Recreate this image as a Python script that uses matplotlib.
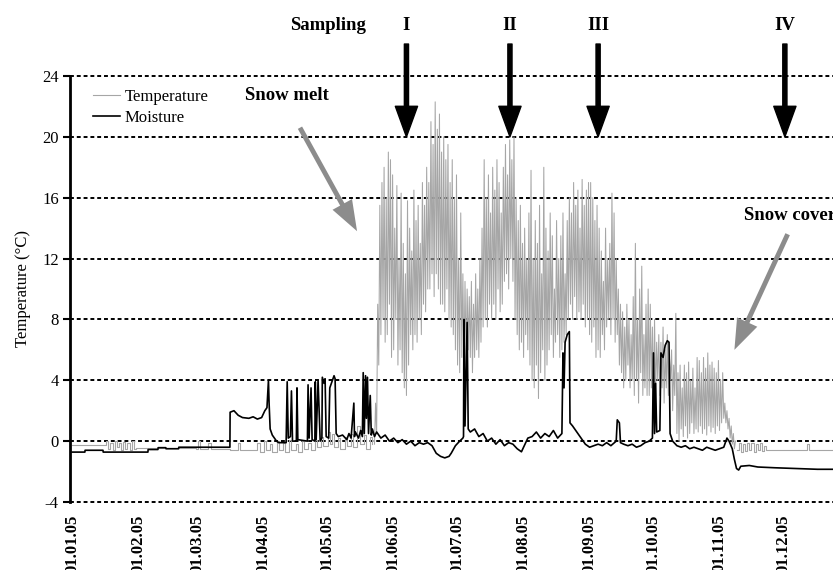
import matplotlib
matplotlib.use('Agg')
import matplotlib.pyplot as plt

plt.rcParams['font.family'] = ['Liberation Serif', 'DejaVu Serif']
plt.rcParams['axes.unicode_minus'] = False

# x axis: day of year 2005 (0 = 1 Jan)
tick_days = [0, 31, 59, 90, 120, 151, 181, 212, 243, 273, 304, 334]
tick_labels = ['01.01.05', '01.02.05', '01.03.05', '01.04.05', '01.05.05', '01.06.05',
               '01.07.05', '01.08.05', '01.09.05', '01.10.05', '01.11.05', '01.12.05']
y_ticks = [-4, 0, 4, 8, 12, 16, 20, 24]

# temperature before snow melt (day, degC)
temp_pre = [(0, -0.25), (15, -0.25), (16, 0.0), (17, -0.5), (18, -0.1), (19, -0.6), (20, 0.0),
            (21, -0.4), (22, -0.1), (23, -0.6), (24, -0.05), (25, -0.5), (26, -0.1), (27, -0.55),
            (28, 0.0), (29, -0.5), (30, -0.45), (58, -0.5), (59, 0.0), (60, -0.5), (64, -0.1),
            (65, -0.5), (74, -0.6), (78, -0.1), (79, -0.6), (85, -0.6), (87, -0.1), (88, -0.7),
            (90, 0.0), (91, -0.6), (93, -0.2), (94, -0.7), (96, 0.0), (97, -0.6), (99, -0.1),
            (100, -0.7), (102, 0.1), (103, -0.6), (105, -0.2), (106, -0.7), (108, 0.0), (109, -0.5),
            (111, -0.1), (112, -0.6), (114, 0.1), (115, -0.4), (117, 0.3), (118, -0.3), (120, 0.6),
            (121, -0.2), (122, 0.5), (123, -0.4), (125, 0.2), (126, -0.5), (128, 0.3), (129, -0.3),
            (131, 0.5), (132, -0.4), (134, 1.0), (135, -0.2), (137, 0.4), (138, -0.5), (140, 0.3),
            (141, -0.2)]

# daily (max, min) temperature from day 142 on
summer_start = 142
temp_daily = [(2.5, -0.2), (9, 0.5), (15.5, 5), (17, 7), (18, 8), (16, 6.5), (19, 7), (18.5, 9),
              (17.5, 5.5), (14, 6), (16.8, 8), (12, 5), (16.3, 6), (13, 4.5), (11, 3.5), (15.8, 3),
              (14, 5), (12.5, 7), (16.5, 6), (14.5, 7), (15.5, 6.5), (13, 8), (17, 7), (15.5, 9),
              (18, 8.5), (17, 10), (21, 10), (19.5, 11), (22.3, 9.5), (20.5, 11), (21.5, 10), (19, 9),
              (20, 9), (18.5, 8.5), (19.5, 10), (17, 8), (18.5, 7.5), (16, 7), (17.5, 6), (12, 5),
              (15, 4.5), (11, 5.5), (10.5, 4.5), (10, 5), (9.5, 6), (10.5, 5.5), (9, 4.5), (11, 5.5),
              (10, 6), (12, 5.5), (14, 6.5), (18.5, 7.5), (16, 8), (17.5, 7.5), (15, 9), (18, 8),
              (16.5, 9), (18.5, 8), (17, 10), (15, 8.5), (18, 9), (19.5, 10.5), (17.5, 11), (19.8, 10),
              (18.5, 12), (20, 10.5), (16, 8), (14.5, 7), (15.5, 6), (13, 6.5), (14, 5.5), (12, 7),
              (15, 6), (17.8, 5), (12, 4), (14.5, 3.5), (13, 5), (15.5, 2.8), (11, 4.5), (18, 6),
              (14, 4), (12.5, 5), (15, 6), (13.5, 7), (10, 5.5), (14.5, 6.5), (12, 7), (13.5, 5.5),
              (15, 6), (11, 6.5), (14.5, 7), (16, 8), (15, 9), (17, 8), (15.5, 9.5), (16.5, 8),
              (14, 8.5), (17.2, 8), (15.5, 9), (16.5, 7.5), (17, 8), (17, 7), (16, 6.5), (14.5, 7.5),
              (15.5, 5.5), (14, 6), (12.5, 5.5), (10.5, 7), (14, 6), (12, 7.5), (13, 8), (16.3, 7),
              (15, 8), (12, 6.5), (10, 7), (9, 5), (8.5, 4.5), (7.5, 3.5), (9, 4), (8, 5), (7, 3.5),
              (9.5, 4), (13, 3), (8, 4), (10, 2.5), (11.5, 4.5), (7, 3), (9, 3.5), (10, 3), (9, 3),
              (7.5, 3.5), (8, 2.5), (6.5, 3), (7, 4), (6.5, 3), (7.5, 3.5), (6, 2.5), (7, 3.5),
              (5.5, 3), (6, 4), (5, 2), (8.4, 3), (4.5, 0.5), (5, 0), (3.5, 0.8), (5, 0.3), (4.5, 1),
              (5.2, 0.2), (4, 0.5), (4.8, 1.2), (3.5, 0.5), (5.5, 0.8), (5.3, 0.6), (4.5, 1),
              (5.5, 0.5), (4.8, 0.8), (5.8, 0.4), (5, 1), (5.2, 0.6), (4.8, 0.9), (4.5, 0.5),
              (5.3, 1), (4, 0.7), (4.5, 1.2), (2.5, 1.5), (2, 1.2), (1.5, 0.8), (1, 0.2), (0.5, -0.2),
              (0, -0.5)]

# temperature under snow cover
temp_post = [(312, -0.6), (313, -0.1), (314, -0.7), (315, -0.2), (316, -0.65), (317, -0.1),
             (318, -0.6), (319, -0.15), (320, -0.7), (321, -0.2), (322, -0.6), (323, -0.1),
             (324, -0.65), (325, -0.3), (326, -0.6), (345, -0.6), (345.3, -0.2), (345.8, -0.6),
             (357, -0.6)]

# moisture (day, value)
moisture = [(0, -0.72), (6, -0.72), (6.1, -0.6), (14.5, -0.6), (14.6, -0.72), (35.6, -0.72),
            (35.7, -0.55), (40.3, -0.55), (40.4, -0.43), (44, -0.43), (44.1, -0.5), (50, -0.5),
            (50.1, -0.4), (74.1, -0.4), (74.2, 1.9), (76, 2.0), (78, 1.7), (80, 1.55), (83, 1.5),
            (85, 1.6), (87, 1.45), (89, 1.55), (90.5, 2.0), (91.5, 2.2), (92.2, 4.0), (92.5, 2.5),
            (93, 0.8), (94, 0.4), (96, 0.0), (97, -0.1), (100.5, -0.1), (101, 3.9), (101.5, 0.2),
            (102.5, 0.3), (103, 3.3), (103.5, 0.0), (105.3, 0.0), (105.6, 3.5), (106, 0.1),
            (110.5, 0.0), (110.8, 3.7), (111.3, 0.2), (112.2, 3.5), (112.7, 0.1), (114, 0.0),
            (114.2, 3.9), (114.6, 0.1), (115.5, 4.0), (116.5, 0.0), (117.3, 0.2), (117.5, 4.2),
            (118.3, 3.8), (118.8, 4.1), (119.3, 0.3), (120.5, 0.2), (121, 3.5), (122, 3.9),
            (123, 4.3), (123.5, 4.1), (124, 0.5), (125, 0.3), (127, 0.4), (129, 0.1), (130, 0.5),
            (131, 0.2), (132.3, 2.5), (132.6, 0.3), (133, 0.6), (134.5, 0.2), (135.5, 0.7),
            (136.3, 0.3), (136.7, 4.5), (137.2, 0.5), (137.8, 4.3), (138.2, 1.5), (138.7, 4.2),
            (139.2, 0.5), (140, 3.0), (140.5, 0.4), (141, 0.8), (142, 0.3), (143, 0.6), (145, 0.2),
            (147, 0.4), (149, 0.0), (151, 0.2), (153, -0.1), (155, 0.1), (157, -0.2), (159, 0.0),
            (161, -0.3), (163, -0.1), (165, -0.2), (167, -0.1), (169, -0.3), (171, -0.8),
            (173, -1.0), (175, -1.1), (177, -1.0), (178, -0.8), (180, -0.3), (182, 0.0),
            (183.5, 0.2), (183.8, 0.3), (184, 8.0), (184.5, 1.0), (185.5, 7.8), (186, 0.8),
            (187, 0.6), (189, 0.8), (191, 0.3), (193, 0.5), (195, 0.0), (197, 0.2), (199, -0.2),
            (201, 0.1), (203, -0.3), (205, -0.1), (207, -0.2), (209, -0.5), (211, -0.7),
            (212, -0.4), (214, 0.2), (216, 0.3), (218, 0.6), (220, 0.2), (222, 0.5), (224, 0.3),
            (226, 0.7), (228, 0.2), (230, 0.5), (230.5, 5.8), (231, 3.5), (231.5, 6.5),
            (232.5, 7.0), (233.5, 7.2), (233.8, 1.2), (235, 1.0), (237, 0.6), (239, 0.2),
            (241, -0.2), (243, -0.4), (245, -0.3), (247, -0.2), (249, -0.3), (251, -0.1),
            (253, -0.3), (255.5, 0.0), (256, 1.4), (257, 1.2), (257.5, -0.1), (259, -0.2),
            (261, -0.3), (263, -0.2), (265, -0.4), (267, -0.3), (269, -0.1), (271, 0.0),
            (272.5, 0.2), (273, 5.8), (273.5, 0.5), (274, 3.8), (274.5, 0.6), (276, 0.7),
            (276.5, 5.8), (277.5, 5.5), (278.5, 6.3), (279.5, 6.6), (280.3, 6.5), (280.8, 0.5),
            (282, 0.0), (284, -0.3), (286, -0.4), (288, -0.3), (290, -0.5), (292, -0.4),
            (294, -0.5), (296, -0.6), (298, -0.4), (300, -0.5), (302, -0.6), (304, -0.5),
            (306, -0.4), (307.5, 0.2), (308.5, 0.0), (310, -0.5), (311, -1.2), (312, -1.8),
            (313, -1.9), (314, -1.65), (318, -1.6), (322, -1.7), (330, -1.75), (340, -1.8),
            (350, -1.85), (357, -1.85)]

# sampling campaigns (day of arrow)
sampling_labels = ['I', 'II', 'III', 'IV']
sampling_days = [157, 205.6, 247, 334.7]

GREY = '#a6a6a6'

fig = plt.figure(figsize=(8.33, 5.7), dpi=100)
ax = fig.add_axes([0.084, 0.1193, 0.916, 0.7474])

# temperature pieces
ax.plot([d for d, v in temp_pre], [v for d, v in temp_pre], color=GREY, lw=0.8,
        drawstyle='steps-post', label='Temperature')
sx, sy = [], []
for i, (hi, lo) in enumerate(temp_daily):
    sx += [summer_start + i, summer_start + i + 0.5]
    sy += [lo, hi]
ax.plot(sx, sy, color=GREY, lw=0.75)
ax.plot([d for d, v in temp_post], [v for d, v in temp_post], color=GREY, lw=0.8,
        drawstyle='steps-post')

ax.plot([d for d, v in moisture], [v for d, v in moisture], color='black', lw=1.2,
        label='Moisture')

ax.set_xlim(-1, 357.3)
ax.set_ylim(-4, 24)
ax.set_yticks(y_ticks)
ax.set_xticks(tick_days)
ax.set_xticklabels(tick_labels, rotation=90, fontweight='bold', fontsize=12)
ax.tick_params(axis='x', length=0, pad=9)
ax.tick_params(axis='y', direction='out', length=5, width=1.5, labelsize=12, pad=3)
ax.set_ylabel('Temperature (°C)', fontsize=12, labelpad=8)

for s in ['top', 'right', 'bottom']:
    ax.spines[s].set_visible(False)
ax.spines['left'].set_linewidth(2)

ax.yaxis.grid(True, color='black', linestyle=(0, (2, 1.5)), lw=1.4)
for gl in ax.get_ygridlines():
    gl.set_clip_on(False)
ax.set_axisbelow(True)

ax.legend(loc='upper left', bbox_to_anchor=(0.03, 0.97), frameon=False, fontsize=12,
          handlelength=1.6, handletextpad=0.3, labelspacing=0.3, borderpad=0, borderaxespad=0)

# sampling arrows
ax.text(120, 27.3, 'Sampling', fontsize=13.5, fontweight='bold', ha='center', va='center',
        clip_on=False)
for lab, d in zip(sampling_labels, sampling_days):
    ax.text(d, 27.3, lab, fontsize=13.5, fontweight='bold', ha='center', va='center',
            clip_on=False)
    ax.annotate('', xy=(d, 20), xytext=(d, 26.1), annotation_clip=False,
                arrowprops=dict(width=3, headwidth=16, headlength=22, color='black'))

# snow annotations
ax.text(81.2, 22.7, 'Snow melt', fontsize=13.5, fontweight='bold', ha='left', va='center')
ax.annotate('', xy=(133.8, 13.8), xytext=(107, 20.6),
            arrowprops=dict(width=3.5, headwidth=16, headlength=22, color='#8c8c8c', lw=0))
ax.text(315.5, 14.8, 'Snow cover', fontsize=13.5, fontweight='bold', ha='left', va='center',
        clip_on=False)
ax.annotate('', xy=(311, 6.0), xytext=(336, 13.6),
            arrowprops=dict(width=3.5, headwidth=16, headlength=22, color='#8c8c8c', lw=0))

fig.savefig('out.png', dpi=100)
